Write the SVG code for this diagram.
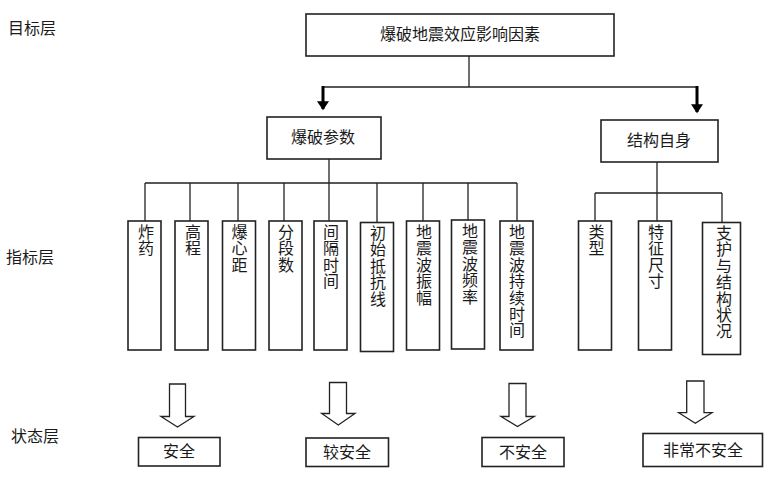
<svg xmlns="http://www.w3.org/2000/svg" width="772" height="478" viewBox="0 0 772 478">
<style>
  .box{fill:#fff;stroke:#222;stroke-width:1.6}
  .ln{fill:none;stroke:#222;stroke-width:1.3}
  .thick{fill:none;stroke:#000;stroke-width:3}
  .big{fill:#fff;stroke:#222;stroke-width:1.3;stroke-linejoin:miter}
  text{font-family:"Noto Sans CJK SC","Noto Sans CJK TC",sans-serif;font-size:16px;fill:#1a1a1a}
  .c{text-anchor:middle}
</style>
<defs>
  <marker id="ah" markerWidth="4" markerHeight="4" refX="2.6" refY="2" orient="auto" markerUnits="strokeWidth">
    <path d="M0,0 L3,2 L0,4 Z" fill="#000"/>
  </marker>
</defs>

<g id="layers">
  <text x="8" y="34">目标层</text>
  <text x="6" y="263">指标层</text>
  <text x="11" y="442">状态层</text>
</g>

<g id="connectors">
  <path class="ln" d="M469,56 V87 M323,87 H697"/>
  <path class="thick" d="M323,86 V109" marker-end="url(#ah)"/>
  <path class="thick" d="M697,86 V112" marker-end="url(#ah)"/>
  <path class="ln" d="M329,159 V221 M145,183 H517 M145,183 V221 M190,183 V221 M238,183 V221 M284,183 V221 M377,183 V223 M423,183 V221 M468,183 V220 M517,183 V221"/>
  <path class="ln" d="M657,162 V221 M595,193 H722 M595,193 V221 M722,193 V223"/>
  <path class="big" d="M169.5,384 H185.5 V416.5 H194 L177.5,427 L161,416.5 H169.5 Z"/>
  <path class="big" d="M329.5,382.5 H346.5 V413.5 H355 L338.3,425 L321.7,413.5 H329.5 Z"/>
  <path class="big" d="M509,383.5 H526 V416.5 H534.3 L517.5,426.5 L501,416.5 H509 Z"/>
  <path class="big" d="M686.7,381 H704 V412.7 H712 L695.3,423.3 L678.7,412.7 H686.7 Z"/>
</g>

<g id="n-goal">
  <rect class="box" x="306" y="14" width="308" height="42"/>
  <text class="c" x="460" y="40">爆破地震效应影响因素</text>
</g>
<g id="n-blast">
  <rect class="box" x="267" y="117" width="114" height="42"/>
  <text class="c" x="323" y="143">爆破参数</text>
</g>
<g id="n-struct">
  <rect class="box" x="601" y="120" width="117" height="42"/>
  <text class="c" x="659" y="146">结构自身</text>
</g>

<g id="n-explosive">
  <rect class="box" x="128" y="221" width="33" height="129"/>
  <text class="c" x="146" y="238">炸<tspan x="146" dy="16.4">药</tspan></text>
</g>
<g id="n-elev">
  <rect class="box" x="175" y="221" width="33" height="129"/>
  <text class="c" x="193" y="238">高<tspan x="193" dy="16.4">程</tspan></text>
</g>
<g id="n-dist">
  <rect class="box" x="222.5" y="221" width="33" height="129"/>
  <text class="c" x="239.5" y="238">爆<tspan x="239.5" dy="16.4">心</tspan><tspan x="239.5" dy="16.4">距</tspan></text>
</g>
<g id="n-seg">
  <rect class="box" x="269" y="221" width="33" height="129"/>
  <text class="c" x="286" y="238">分<tspan x="286" dy="16.4">段</tspan><tspan x="286" dy="16.4">数</tspan></text>
</g>
<g id="n-interval">
  <rect class="box" x="314" y="221" width="33" height="129"/>
  <text class="c" x="331" y="238">间<tspan x="331" dy="16.4">隔</tspan><tspan x="331" dy="16.4">时</tspan><tspan x="331" dy="16.4">间</tspan></text>
</g>
<g id="n-burden">
  <rect class="box" x="360.5" y="222.5" width="33" height="129"/>
  <text class="c" x="378" y="239">初<tspan x="378" dy="16.4">始</tspan><tspan x="378" dy="16.4">抵</tspan><tspan x="378" dy="16.4">抗</tspan><tspan x="378" dy="16.4">线</tspan></text>
</g>
<g id="n-amp">
  <rect class="box" x="406.5" y="221" width="33" height="129"/>
  <text class="c" x="424" y="238">地<tspan x="424" dy="16.4">震</tspan><tspan x="424" dy="16.4">波</tspan><tspan x="424" dy="16.4">振</tspan><tspan x="424" dy="16.4">幅</tspan></text>
</g>
<g id="n-freq">
  <rect class="box" x="451.5" y="220" width="33" height="129"/>
  <text class="c" x="470" y="237">地<tspan x="470" dy="16.4">震</tspan><tspan x="470" dy="16.4">波</tspan><tspan x="470" dy="16.4">频</tspan><tspan x="470" dy="16.4">率</tspan></text>
</g>
<g id="n-dur">
  <rect class="box" x="500" y="221" width="33" height="129"/>
  <text class="c" x="517" y="238">地<tspan x="517" dy="16.4">震</tspan><tspan x="517" dy="16.4">波</tspan><tspan x="517" dy="16.4">持</tspan><tspan x="517" dy="16.4">续</tspan><tspan x="517" dy="16.4">时</tspan><tspan x="517" dy="16.4">间</tspan></text>
</g>
<g id="n-type">
  <rect class="box" x="578.5" y="221" width="33" height="129"/>
  <text class="c" x="596.5" y="238">类<tspan x="596.5" dy="16.4">型</tspan></text>
</g>
<g id="n-size">
  <rect class="box" x="638.5" y="221" width="33" height="129"/>
  <text class="c" x="656" y="238">特<tspan x="656" dy="16.4">征</tspan><tspan x="656" dy="16.4">尺</tspan><tspan x="656" dy="16.4">寸</tspan></text>
</g>
<g id="n-support">
  <rect class="box" x="702.5" y="222.5" width="38" height="132"/>
  <text class="c" x="724" y="239">支<tspan x="724" dy="16.4">护</tspan><tspan x="724" dy="16.4">与</tspan><tspan x="724" dy="16.4">结</tspan><tspan x="724" dy="16.4">构</tspan><tspan x="724" dy="16.4">状</tspan><tspan x="724" dy="16.4">况</tspan></text>
</g>

<g id="n-safe">
  <rect class="box" x="138.5" y="437.5" width="81.5" height="28.5"/>
  <text class="c" x="179" y="457">安全</text>
</g>
<g id="n-fairly-safe">
  <rect class="box" x="306" y="438" width="82.5" height="28.5"/>
  <text class="c" x="347" y="457.5">较安全</text>
</g>
<g id="n-unsafe">
  <rect class="box" x="482" y="437.5" width="82" height="29"/>
  <text class="c" x="523" y="457.5">不安全</text>
</g>
<g id="n-very-unsafe">
  <rect class="box" x="643" y="433.5" width="119.5" height="33"/>
  <text class="c" x="703" y="455.5">非常不安全</text>
</g>
</svg>
